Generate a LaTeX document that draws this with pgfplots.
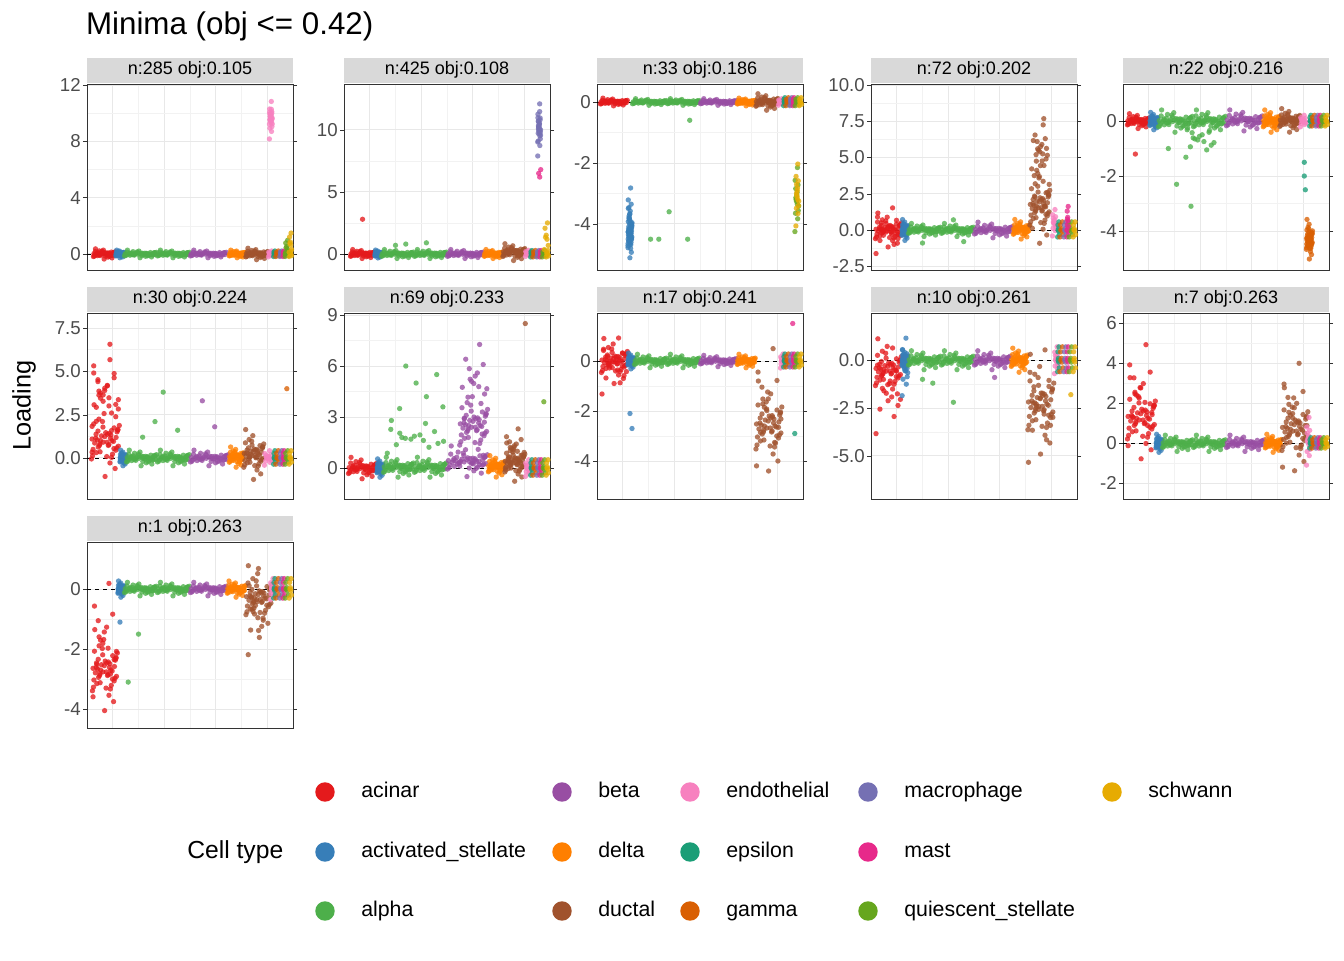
\documentclass[border=0pt]{standalone}
\usepackage{pgfplots}
\pgfplotsset{compat=1.18}
\usepackage{pgfplotstable}
\usepackage{fontspec}
\setmainfont{Liberation Sans}
\definecolor{acn}{HTML}{E41A1C}\definecolor{ast}{HTML}{377EB8}\definecolor{alp}{HTML}{4DAF4A}
\definecolor{bet}{HTML}{984EA3}\definecolor{del}{HTML}{FF7F00}\definecolor{duc}{HTML}{A0522D}
\definecolor{endo}{HTML}{F781BF}\definecolor{eps}{HTML}{1B9E77}\definecolor{gam}{HTML}{D95F02}
\definecolor{mac}{HTML}{7570B3}\definecolor{mst}{HTML}{E7298A}\definecolor{qui}{HTML}{66A61E}
\definecolor{sch}{HTML}{E6AB02}\definecolor{strip}{HTML}{D9D9D9}
\pgfplotstableread{
u v
.618 .45
.236 .62
.854 .38
.472 .55
.090 .71
.708 .29
.326 .50
.944 .43
.562 .58
.180 .35
.798 .66
.416 .48
.034 .52
.652 .22
.270 .77
.888 .41
.506 .60
.124 .47
.742 .33
.360 .56
.978 .69
.596 .44
.214 .51
.832 .15
.450 .84
.068 .39
.686 .57
.304 .46
.922 .63
.540 .30
.158 .53
.776 .49
.394 .74
.012 .27
.630 .59
.248 .42
.866 .54
.484 .05
.102 .95
.720 .50
.310 .36
.930 .64
.550 .48
.170 .58
.790 .40
.410 .67
.050 .31
.670 .53
.290 .44
.900 .61
}\jit
\pgfplotstableread{
u v
.618 .45
.236 .62
.854 .38
.472 .55
.090 .71
.708 .29
.326 .50
.944 .43
.562 .58
.180 .35
.798 .66
.416 .48
.034 .15
.652 .85
.270 .52
}\jits
\pgfplotstableread{
u v
.618 .45
.236 .72
.854 .30
.472 .55
.090 .20
.708 .85
.326 .50
}\jitt
\pgfplotsset{pts/.style={only marks, mark=*, mark size=2pt, opacity=0.78, draw opacity=0}}
\newcommand{\G}[5]{\addplot[pts,#1] table[x expr={#2+\thisrow{u}*(#3-#2)}, y expr={#4+\thisrow{v}*((#5)-(#4))}]{\jit};}
\newcommand{\g}[5]{\addplot[pts,#1] table[x expr={#2+\thisrow{u}*(#3-#2)}, y expr={#4+\thisrow{v}*((#5)-(#4))}]{\jits};}
\newcommand{\gt}[5]{\addplot[pts,#1] table[x expr={#2+\thisrow{u}*(#3-#2)}, y expr={#4+\thisrow{v}*((#5)-(#4))}]{\jitt};}
\newcommand{\Ou}[2]{\addplot[pts,#1] coordinates {#2};}
\newcommand{\tail}[2]{\gt{eps}{90.5}{91.5}{#1}{#2}\gt{gam}{91.5}{93.5}{#1}{#2}\gt{mac}{93.5}{95}{#1}{#2}\gt{mst}{95}{96}{#1}{#2}\gt{qui}{96}{98}{#1}{#2}\gt{sch}{98}{99.5}{#1}{#2}}
\newcommand{\zl}{\addplot[black, dashed, line width=0.5pt] coordinates {(0,0)(100,0)};}
\pgfplotsset{panel/.style={scale only axis, width=154.5pt, height=139.5pt, anchor=north west,
 xmin=0, xmax=100, xtick={12.5,37.5,62.5,87.5}, xticklabels={}, minor x tick num=1, minor y tick num=1,
 grid=both, major grid style={color=black!9, line width=0.7pt}, minor grid style={color=black!5, line width=0.4pt},
 axis line style={color=black!80}, x tick style={draw=none}, minor tick style={draw=none},
 y tick style={color=black!80}, major tick length=3pt, tick align=outside,
 yticklabel style={font=\fontsize{14}{16}\selectfont, text=black!70, inner sep=1.5pt},
 /pgf/number format/assume math mode=true,
 every axis title shift=0pt,
 title style={at={(0.5,1)}, anchor=south, fill=strip, minimum width=154.5pt, minimum height=19pt, inner sep=0pt, yshift=0.6pt, font=\fontsize{13.5}{15}\selectfont},
 clip=true}}
\begin{document}
\begin{tikzpicture}
\path[use as bounding box] (0pt,0pt) rectangle (1008pt,-720pt);
\node[anchor=west,font=\fontsize{23.5}{26}\selectfont] at (61pt,-19.5pt) {Minima (obj <= 0.42)};
\node[rotate=90,font=\fontsize{19}{22}\selectfont] at (18pt,-304pt) {Loading};
% P1
\begin{axis}[panel, at={(65.25pt,-63pt)}, ymin=-1.14, ymax=12.07, ytick={0,4,8,12}, title={n:285 obj:0.105}]
\G{acn}{3}{14}{-0.4}{0.4}\G{ast}{14}{18}{-0.3}{0.3}\G{alp}{18}{34}{-0.3}{0.3}\G{alp}{34}{50}{-0.3}{0.3}
\G{bet}{50}{68}{-0.3}{0.3}\G{del}{69}{77}{-0.3}{0.3}\G{duc}{77}{88}{-0.45}{0.45}
\g{endo}{88}{90.5}{-0.3}{0.3}\g{endo}{88.5}{90}{7.6}{11.4}\g{endo}{88.5}{90}{9}{10.5}
\tail{-0.3}{0.3}\gt{qui}{96}{98}{-0.3}{1.2}\gt{sch}{98}{99.5}{-0.3}{1.8}
\zl
\end{axis}
% P2
\begin{axis}[panel, at={(258pt,-63pt)}, ymin=-1.29, ymax=13.7, ytick={0,5,10}, title={n:425 obj:0.108}]
\G{acn}{3}{15}{-0.4}{0.4}\Ou{acn}{(9,2.8)}\G{ast}{15}{18}{-0.35}{0.35}\G{alp}{18}{34}{-0.4}{0.4}\G{alp}{34}{50}{-0.4}{0.4}\Ou{alp}{(30,0.8)(40,0.9)(25,0.7)}
\G{bet}{50}{68}{-0.4}{0.4}\G{del}{68}{77}{-0.4}{0.4}\G{duc}{77}{88}{-0.6}{0.9}
\g{endo}{88}{90.5}{-0.3}{0.4}\tail{-0.4}{0.4}\g{mac}{94}{95.5}{7}{13}\g{mac}{94}{95.5}{8.5}{12}\Ou{mst}{(95,6.2)(95.5,6.8)(94.5,6.5)}\gt{sch}{97}{99.5}{-0.3}{3}
\zl
\end{axis}
% P3
\begin{axis}[panel, at={(447.75pt,-63pt)}, ymin=-5.51, ymax=0.59, ytick={-4,-2,0}, title={n:33 obj:0.186}]
\G{acn}{1.5}{15}{-0.14}{0.14}\G{ast}{15}{17}{-5.2}{-3.4}\g{ast}{15}{17}{-5.2}{-2.4}
\G{alp}{17}{34}{-0.12}{0.12}\G{alp}{34}{50}{-0.12}{0.12}\Ou{alp}{(26,-4.5)(30,-4.5)(35,-3.6)(44,-4.5)(45,-0.6)}
\G{bet}{50}{68}{-0.12}{0.12}\G{del}{68}{77}{-0.14}{0.14}\G{duc}{77}{88}{-0.3}{0.3}
\g{endo}{88}{90.5}{-0.15}{0.15}\tail{-0.2}{0.2}\g{qui}{96}{98}{-4.7}{-1.7}\g{sch}{96.5}{98}{-4.5}{-1.6}
\zl
\end{axis}
% P4
\begin{axis}[panel, at={(653.25pt,-63pt)}, ymin=-2.76, ymax=10.07, ytick={-2.5,0,2.5,5,7.5,10}, yticklabel style={/pgf/number format/.cd,fixed,fixed zerofill,precision=1}, title={n:72 obj:0.202}]
\G{acn}{2}{15}{-1.3}{1.3}\g{acn}{2}{15}{-2.3}{2.2}\G{ast}{15}{18}{-0.8}{0.8}
\G{alp}{18}{34}{-0.5}{0.5}\G{alp}{34}{50}{-0.5}{0.5}\Ou{alp}{(25,-0.9)(40,0.7)(45,-0.8)}
\G{bet}{50}{69}{-0.6}{0.6}\G{del}{69}{77}{-0.7}{0.8}\G{duc}{77}{87}{-1.2}{4.5}\g{duc}{78}{87}{-1.5}{9.3}\g{duc}{79}{86}{3}{8}
\g{endo}{88}{90}{-0.8}{1.8}\tail{-0.8}{0.8}\gt{mst}{95}{96}{-0.5}{2}
\zl
\end{axis}
% P5
\begin{axis}[panel, at={(842.25pt,-63pt)}, ymin=-5.42, ymax=1.35, ytick={-4,-2,0}, title={n:22 obj:0.216}]
\G{acn}{2}{13}{-0.3}{0.3}\Ou{acn}{(6,-1.2)}\G{ast}{13}{17}{-0.35}{0.35}
\G{alp}{17}{34}{-0.45}{0.45}\G{alp}{34}{50}{-0.45}{0.45}\g{alp}{30}{45}{-1.6}{0.3}\Ou{alp}{(26,-2.3)(33,-3.1)(22,-1.0)}
\G{bet}{50}{68}{-0.4}{0.45}\G{del}{68}{76}{-0.45}{0.45}\G{duc}{76}{86}{-0.45}{0.5}
\g{endo}{86}{89}{-0.3}{0.3}\tail{-0.3}{0.3}\G{gam}{89}{92}{-5.1}{-3.5}\Ou{eps}{(88,-1.5)(88,-2.0)(88.5,-2.5)}
\zl
\end{axis}
% P6
\begin{axis}[panel, at={(65.25pt,-234.75pt)}, ymin=-2.37, ymax=8.37, ytick={0,2.5,5,7.5}, yticklabel style={/pgf/number format/.cd,fixed,fixed zerofill,precision=1}, title={n:30 obj:0.224}]
\G{acn}{2}{16}{-1.3}{3.3}\g{acn}{2}{16}{-1}{7.9}\g{acn}{2}{16}{1}{6.5}\G{ast}{16}{19}{-0.5}{0.5}
\G{alp}{19}{34}{-0.5}{0.5}\G{alp}{34}{50}{-0.5}{0.5}\Ou{alp}{(37,3.8)(33,2.1)(44,1.6)(27,1.2)}
\G{bet}{50}{69}{-0.5}{0.5}\Ou{bet}{(56,3.3)(62,1.8)}\G{del}{69}{76}{-0.6}{0.7}\G{duc}{76}{86}{-1.4}{1.8}
\g{endo}{86}{90}{-0.6}{0.6}\tail{-0.6}{0.6}\Ou{gam}{(97,4.0)}
\zl
\end{axis}
% P7
\begin{axis}[panel, at={(258pt,-234.75pt)}, ymin=-1.82, ymax=9.12, ytick={0,3,6,9}, title={n:69 obj:0.233}]
\G{acn}{2}{16}{-0.7}{0.7}\G{ast}{16}{19}{-0.6}{0.6}
\G{alp}{19}{34}{-0.6}{0.7}\G{alp}{34}{50}{-0.6}{0.7}\g{alp}{20}{50}{0.5}{3}\Ou{alp}{(30,6.0)(35,5.0)(40,4.2)(27,3.5)(45,5.5)(23,2.8)(48,3.6)}
\G{bet}{50}{70}{-0.6}{1.4}\G{bet}{56}{70}{0}{5}\g{bet}{58}{70}{2}{8.2}
\G{del}{70}{78}{-0.6}{0.8}\G{duc}{78}{88}{-0.9}{1.6}\g{duc}{78}{88}{-0.5}{2.8}\Ou{duc}{(88,8.5)}
\g{endo}{88}{90.5}{-0.7}{0.7}\tail{-0.7}{0.7}\Ou{qui}{(97,3.9)}
\zl
\end{axis}
% P8
\begin{axis}[panel, at={(447.75pt,-234.75pt)}, ymin=-5.52, ymax=1.92, ytick={-4,-2,0}, title={n:17 obj:0.241}]
\G{acn}{2}{15}{-1}{1}\g{acn}{2}{15}{-1.8}{1.4}\G{ast}{15}{18}{-0.35}{0.35}\Ou{ast}{(16,-2.1)(17,-2.7)}
\G{alp}{18}{34}{-0.3}{0.3}\G{alp}{34}{50}{-0.3}{0.3}\G{bet}{50}{68}{-0.25}{0.25}\G{del}{68}{77}{-0.3}{0.3}
\G{duc}{77}{90}{-4.6}{-0.6}\g{duc}{77}{90}{-5.2}{1.5}
\g{endo}{89}{91}{-0.4}{0.4}\tail{-0.4}{0.4}\Ou{eps}{(96,-2.9)}\Ou{mst}{(95,1.5)}
\zl
\end{axis}
% P9
\begin{axis}[panel, at={(653.25pt,-234.75pt)}, ymin=-7.26, ymax=2.47, ytick={-5,-2.5,0}, yticklabel style={/pgf/number format/.cd,fixed,fixed zerofill,precision=1}, title={n:10 obj:0.261}]
\G{acn}{2}{15}{-2.3}{1.3}\g{acn}{2}{15}{-4.8}{1.6}\G{ast}{15}{18}{-0.6}{0.6}\g{ast}{15}{18}{-2.5}{1.8}
\G{alp}{18}{34}{-0.55}{0.55}\G{alp}{34}{50}{-0.55}{0.55}\Ou{alp}{(30,-1.2)(40,-2.2)(25,-1.0)}
\G{bet}{50}{68}{-0.55}{0.55}\Ou{bet}{(60,-0.9)}\G{del}{68}{76}{-0.7}{0.7}
\G{duc}{76}{89}{-5.2}{0.6}\g{duc}{76}{89}{-6.6}{1.8}
\g{endo}{89}{91}{-1}{1}\tail{-1}{1}\Ou{sch}{(97,-1.8)}
\zl
\end{axis}
% P10
\begin{axis}[panel, at={(842.25pt,-234.75pt)}, ymin=-2.78, ymax=6.5, ytick={-2,0,2,4,6}, title={n:7 obj:0.263}]
\G{acn}{2}{16}{-1}{3.5}\g{acn}{2}{16}{-1.2}{6}\G{ast}{16}{19}{-0.5}{0.5}
\G{alp}{19}{34}{-0.45}{0.45}\G{alp}{34}{50}{-0.45}{0.45}\G{bet}{50}{69}{-0.45}{0.45}\G{del}{69}{77}{-0.5}{0.5}
\G{duc}{77}{90}{-1.6}{3}\g{duc}{77}{90}{-2.3}{5.1}\g{endo}{89}{91}{-1.6}{1.8}\tail{-0.4}{0.4}
\zl
\end{axis}
% P11
\begin{axis}[panel, at={(65.25pt,-406.5pt)}, ymin=-4.63, ymax=1.57, ytick={-4,-2,0}, title={n:1 obj:0.263}]
\G{acn}{2.5}{15}{-4.2}{-1.2}\g{acn}{2.5}{15}{-4.4}{1}\G{ast}{15}{18}{-0.3}{0.3}\Ou{ast}{(16,-1.1)}
\G{alp}{18}{34}{-0.25}{0.25}\G{alp}{34}{50}{-0.25}{0.25}\Ou{alp}{(25,-1.5)(20,-3.1)}
\G{bet}{50}{68}{-0.25}{0.25}\G{del}{68}{77}{-0.3}{0.3}\G{duc}{77}{90}{-1.5}{0.9}\g{duc}{78}{86}{-2.8}{1.3}
\g{endo}{89}{91}{-0.5}{0.5}\tail{-0.5}{0.5}
\zl
\end{axis}
% legend
\node[anchor=east,font=\fontsize{18.5}{21}\selectfont] at (216pt,-639pt) {Cell type};
\foreach \c/\t/\x/\y in {acn/acinar/243.75/594, ast/activated\_stellate/243.75/639, alp/alpha/243.75/683.25,
 bet/beta/421.5/594, del/delta/421.5/639, duc/ductal/421.5/683.25,
 endo/endothelial/517.5/594, eps/epsilon/517.5/639, gam/gamma/517.5/683.25,
 mac/macrophage/651/594, mst/mast/651/639, qui/quiescent\_stellate/651/683.25, sch/schwann/834/594}{
 \fill[\c] (\x pt,-\y pt) circle (7.3pt);
 \node[anchor=west,font=\fontsize{16}{19}\selectfont,inner sep=0pt] at (\x pt+27pt,-\y pt) {\strut\t};
}
\end{tikzpicture}
\end{document}
